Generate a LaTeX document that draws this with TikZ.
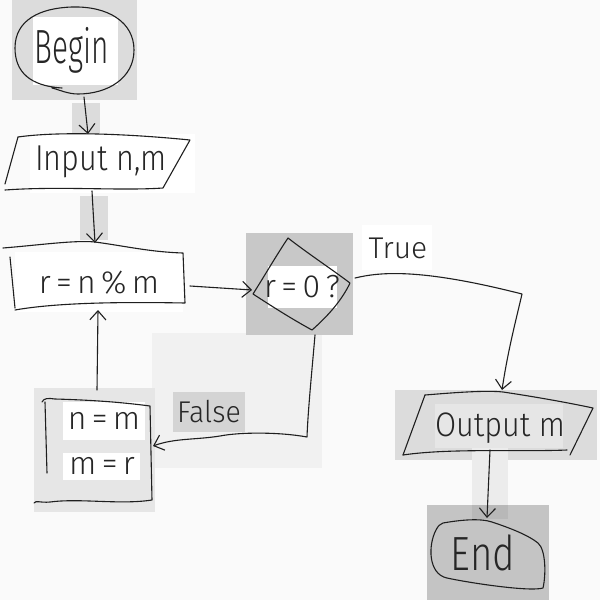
\documentclass[tikz,border=0pt]{standalone}
\usepackage{fontspec}
\setmainfont{Fira Sans}[UprightFont={* Light}]
\usepackage{graphicx}
\usetikzlibrary{arrows.meta}
\definecolor{paper}{HTML}{FAFAFA}
\definecolor{shadeA}{HTML}{DCDCDC}
\definecolor{shadeB}{HTML}{C8C8C8}
\definecolor{shadeC}{HTML}{F1F1F1}
\definecolor{shadeD}{HTML}{D4D4D4}
\definecolor{shadeE}{HTML}{E6E6E6}
\definecolor{shadeF}{HTML}{ECECEC}
\definecolor{shadeG}{HTML}{C4C4C4}
\newcommand{\hw}[3]{{\fontsize{#1}{#1}\selectfont\scalebox{#2}[1]{#3}}}
\begin{document}
\begin{tikzpicture}[x=1pt,y=-1pt,
  ink/.style={draw=black!88, line width=1.1pt, line cap=round, line join=round},
  arr/.style={ink, -{Straight Barb[length=9pt,width=16pt,line width=1.1pt]}},
  hand/.style={text=black!85, inner sep=0pt, anchor=center},
]
\useasboundingbox (0,0) rectangle (600,600);
\fill[paper] (0,0) rectangle (600,600);

% ---------- shaded panels ----------
\fill[shadeA] (12,0) rectangle (137,100);
\fill[white]  (33,17) rectangle (118,85);
\fill[shadeA] (72,103) rectangle (100,136);
\fill[white]  (30,134) rectangle (195,193);
\fill[shadeA] (80,196) rectangle (108,240);
\fill[white]  (15,252) rectangle (183,312);
\fill[shadeC] (152,333) rectangle (322,468);
\fill[shadeB] (246,233) rectangle (353,335);
\fill[white]  (268,266) rectangle (337,308);
\fill[white]  (362,225) rectangle (432,270);
\fill[shadeD] (173,392) rectangle (245,432);
\fill[shadeE] (34,388) rectangle (155,512);
\fill[white]  (63,402) rectangle (145,440);
\fill[white]  (63,453) rectangle (140,480);
\fill[shadeA] (395,390) rectangle (597,460);
\fill[shadeE] (435,404) rectangle (563,448);
\fill[shadeF] (472,448) rectangle (508,505);
\fill[shadeG] (427,505) rectangle (549,600);
\fill[black!28] (472,505) rectangle (508,519);

% ---------- Begin ----------
\draw[ink] (62,88) .. controls (30,86) and (15,72) .. (15,48)
  .. controls (15,20) and (40,8) .. (72,7)
  .. controls (108,6) and (134,22) .. (134,50)
  .. controls (134,78) and (108,94) .. (78,94)
  .. controls (68,94) and (60,90) .. (52,88);
\node[hand] (begin) at (72,50) {\hw{48}{0.62}{Begin}};
\coordinate (beginS) at (84,97);

% ---------- Input n,m ----------
\draw[ink] (18,137) .. controls (60,131) and (130,134) .. (190,140)
  -- (163,188) .. controls (120,191) and (60,186) .. (5,190);
\draw[ink] (18,137) -- (5,184);
\node[hand] (input) at (101,162) {\hw{36}{0.85}{Input n,m}};
\coordinate (inputN) at (88,134);
\coordinate (inputS) at (92,191);

% ---------- r = n % m ----------
\draw[ink] (3,248) .. controls (40,245) and (75,240) .. (95,242)
  .. controls (125,246) and (150,252) .. (183,253) -- (185,303)
  .. controls (130,302) and (60,302) .. (15,310);
\draw[ink] (10,257) -- (15,308);
\node[hand] (mod) at (99,283) {\hw{32}{1}{r\,=\,n\,\%\,m}};
\coordinate (modN) at (95,243);
\coordinate (modE) at (190,286);
\coordinate (modS) at (98,310);

% ---------- r = 0 ? ----------
\draw[ink] (288,238) .. controls (310,255) and (330,268) .. (350,283)
  .. controls (342,300) and (328,316) .. (312,330)
  .. controls (290,318) and (270,305) .. (253,294)
  .. controls (265,275) and (276,256) .. (288,238) -- cycle;
\node[hand] (test) at (302,287) {\hw{32}{1}{r\,=\,0\,?}};
\coordinate (testW) at (252,290);
\coordinate (testE) at (355,278);
\coordinate (testS) at (315,335);

% ---------- n = m / m = r ----------
\draw[ink] (42,402) .. controls (44,398) and (48,398) .. (55,399)
  .. controls (90,400) and (120,402) .. (150,406) -- (152,500)
  .. controls (120,505) and (80,498) .. (50,502)
  .. controls (40,503) and (36,500) .. (34,503);
\draw[ink] (45,402) -- (47,473);
\node[hand] (swap1) at (104,421) {\hw{32}{1}{n\,=\,m}};
\node[hand] (swap2) at (102,466) {\hw{32}{1}{m\,=\,r}};
\coordinate (swapN) at (97,390);
\coordinate (swapE) at (153,446);

% ---------- Output m ----------
\draw[ink] (425,395) .. controls (450,393) and (485,390) .. (503,392)
  .. controls (530,396) and (565,402) .. (593,408) -- (570,455);
\draw[ink] (425,395) -- (403,455);
\draw[ink] (403,455) .. controls (450,448) and (520,452) .. (567,450);
\node[hand] (output) at (500,428) {\hw{34}{0.9}{Output m}};
\coordinate (outN) at (502,390);
\coordinate (outS) at (490,450);

% ---------- End ----------
\draw[ink] (443,523) .. controls (460,520) and (480,518) .. (492,522)
  .. controls (510,528) and (528,535) .. (538,543)
  .. controls (546,550) and (546,575) .. (543,588)
  .. controls (530,592) and (470,583) .. (447,578)
  .. controls (428,574) and (428,545) .. (436,530)
  .. controls (438,526) and (440,524) .. (443,523);
\node[hand] (end) at (483,553) {\hw{48}{0.8}{End}};
\coordinate (endN) at (487,518);

% ---------- connectors ----------
\draw[arr] (beginS) -- (inputN);
\draw[arr] (inputS) .. controls (93,210) and (94,225) .. (modN);
\draw[arr] (modE) -- (testW);
\draw[arr] (swapN) -- (modS);
\draw[arr] (testE) .. controls (380,272) and (420,268) .. (522,294)
  .. controls (516,320) and (508,350) .. (outN);
\node[hand] (truelbl) at (398,248) {\hw{30}{1}{True}};
\draw[arr] (testS) .. controls (312,370) and (308,410) .. (307,437)
  .. controls (280,432) and (240,432) .. (220,436)
  .. controls (195,440) and (175,438) .. (swapE);
\node[hand] (falselbl) at (209,412) {\hw{30}{0.95}{False}};
\draw[arr] (outS) -- (endN);
\end{tikzpicture}
\end{document}
